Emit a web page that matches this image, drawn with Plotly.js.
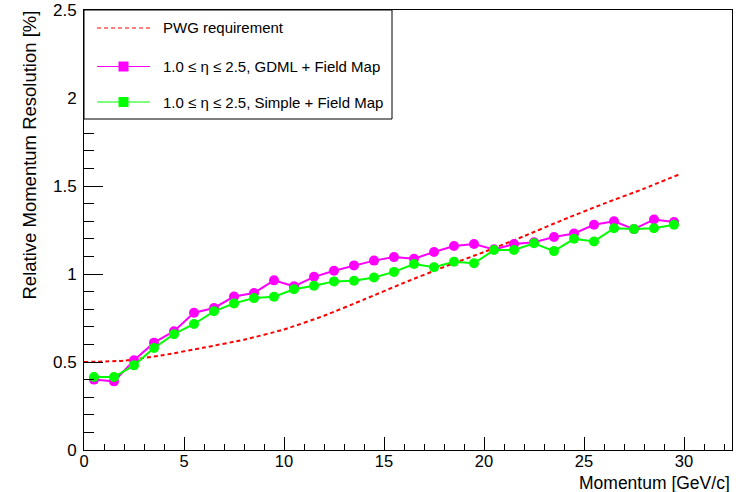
<!DOCTYPE html>
<html>
<head>
<meta charset="utf-8">
<script src="https://cdn.plot.ly/plotly-3.0.1.min.js"></script>
<style>
  html, body { margin: 0; padding: 0; background: #ffffff; }
  #chart { width: 744px; height: 492px; }
</style>
</head>
<body>
<div id="chart"></div>
<script>
// ---- data ----
const momentum = [0.5, 1.5, 2.5, 3.5, 4.5, 5.5, 6.5, 7.5, 8.5, 9.5,
                  10.5, 11.5, 12.5, 13.5, 14.5, 15.5, 16.5, 17.5, 18.5, 19.5,
                  20.5, 21.5, 22.5, 23.5, 24.5, 25.5, 26.5, 27.5, 28.5, 29.5];
const gdmlRes = [0.40, 0.39, 0.51, 0.61, 0.675, 0.78, 0.807, 0.872, 0.892, 0.964,
                 0.93, 0.984, 1.018, 1.049, 1.076, 1.096, 1.087, 1.125, 1.159, 1.17,
                 1.14, 1.17, 1.18, 1.21, 1.23, 1.28, 1.30, 1.255, 1.31, 1.295];
const simpleRes = [0.415, 0.415, 0.481, 0.58, 0.658, 0.716, 0.788, 0.833, 0.863, 0.871,
                   0.913, 0.933, 0.958, 0.962, 0.98, 1.012, 1.057, 1.038, 1.07, 1.061,
                   1.136, 1.136, 1.175, 1.13, 1.20, 1.185, 1.26, 1.255, 1.26, 1.28];
const pwgMomentum = [0, 2, 4, 6, 8, 10, 12, 14, 16, 18, 20, 22, 24, 26, 28, 29.8];
const pwgRes = [0.50, 0.508, 0.54, 0.582, 0.627, 0.685, 0.763, 0.855, 0.95, 1.04,
                1.125, 1.215, 1.31, 1.40, 1.485, 1.568];
const legendLabels = ["PWG requirement",
                      "1.0 ≤ η ≤ 2.5, GDML + Field Map",
                      "1.0 ≤ η ≤ 2.5, Simple + Field Map"];
const xTitle = "Momentum [GeV/c]";
const yTitle = "Relative Momentum Resolution [%]";

// ---- styles ----
const FONT = "Liberation Sans, Arial, Helvetica, sans-serif";
const RED = "#ff0000", MAGENTA = "#ff00ff", GREEN = "#00ff00";
const W = 744, H = 492;
const M = {l: 84, r: 12, t: 10, b: 42};
const PW = W - M.l - M.r, PH = H - M.t - M.b;
const px = x => (x - M.l) / PW;          // page pixel -> paper x
const py = y => (H - M.b - y) / PH;      // page pixel -> paper y

const traces = [
  {x: pwgMomentum, y: pwgRes, type: "scatter", mode: "lines",
   line: {color: RED, width: 2, dash: "4px,3px", shape: "spline", smoothing: 0.6},
   hoverinfo: "skip", showlegend: false},
  {x: momentum, y: gdmlRes, type: "scatter", mode: "lines+markers",
   line: {color: MAGENTA, width: 2}, marker: {color: MAGENTA, size: 10, symbol: "circle"},
   showlegend: false},
  {x: momentum, y: simpleRes, type: "scatter", mode: "lines+markers",
   line: {color: GREEN, width: 2}, marker: {color: GREEN, size: 10, symbol: "circle"},
   showlegend: false}
];

// legend box (drawn as shapes + annotations)
const legRows = [28, 66.5, 102];
const shapes = [
  {type: "rect", xref: "paper", yref: "paper", x0: px(84), x1: px(392), y0: py(119), y1: py(10),
   line: {color: "#000", width: 1}, fillcolor: "#fff", layer: "above"},
  {type: "line", xref: "paper", yref: "paper", x0: px(97), x1: px(150), y0: py(legRows[0]), y1: py(legRows[0]),
   line: {color: RED, width: 1, dash: "4px,3px"}, layer: "above"},
  {type: "line", xref: "paper", yref: "paper", x0: px(97), x1: px(150), y0: py(legRows[1]), y1: py(legRows[1]),
   line: {color: MAGENTA, width: 1.2}, layer: "above"},
  {type: "rect", xref: "paper", yref: "paper", x0: px(118.5), x1: px(128.5), y0: py(legRows[1] + 5), y1: py(legRows[1] - 5),
   line: {width: 0}, fillcolor: MAGENTA, layer: "above"},
  {type: "line", xref: "paper", yref: "paper", x0: px(97), x1: px(150), y0: py(legRows[2]), y1: py(legRows[2]),
   line: {color: GREEN, width: 1.2}, layer: "above"},
  {type: "rect", xref: "paper", yref: "paper", x0: px(118.5), x1: px(128.5), y0: py(legRows[2] + 5), y1: py(legRows[2] - 5),
   line: {width: 0}, fillcolor: GREEN, layer: "above"}
];

const annotations = legendLabels.map((t, i) => ({
  text: t, xref: "paper", yref: "paper", x: px(161), y: py(legRows[i]),
  xanchor: "left", yanchor: "middle", showarrow: false,
  font: {family: FONT, size: 15, color: "#000"}
}));
annotations.push({
  text: xTitle, xref: "paper", yref: "paper", x: px(732), y: py(483),
  xanchor: "right", yanchor: "middle", showarrow: false,
  font: {family: FONT, size: 17.5, color: "#000"}
});
annotations.push({
  text: yTitle, xref: "paper", yref: "paper", x: px(29), y: py(9),
  xanchor: "center", yanchor: "top", textangle: -90, showarrow: false,
  font: {family: FONT, size: 18.5, color: "#000"}
});

const layout = {
  width: W, height: H, margin: M,
  paper_bgcolor: "#fff", plot_bgcolor: "#fff",
  font: {family: FONT, size: 17, color: "#000"},
  showlegend: false,
  xaxis: {range: [0, 32.4], dtick: 5, tick0: 0, ticks: "inside", ticklen: 13, tickwidth: 1,
          tickcolor: "#000", showline: true, linecolor: "#000", linewidth: 1, mirror: true,
          showgrid: false, zeroline: false, ticklabelstandoff: -4,
          tickfont: {family: FONT, size: 16.5, color: "#000"},
          minor: {dtick: 1, ticks: "inside", ticklen: 6.5, tickwidth: 1, tickcolor: "#000", showgrid: false}},
  yaxis: {range: [0, 2.5], dtick: 0.5, tick0: 0, ticks: "inside", ticklen: 19, tickwidth: 1,
          tickcolor: "#000", showline: true, linecolor: "#000", linewidth: 1, mirror: true,
          showgrid: false, zeroline: false, ticklabelstandoff: 3,
          tickfont: {family: FONT, size: 17, color: "#000"},
          minor: {dtick: 0.1, ticks: "inside", ticklen: 10, tickwidth: 1, tickcolor: "#000", showgrid: false}},
  shapes: shapes,
  annotations: annotations
};

Plotly.newPlot("chart", traces, layout, {displayModeBar: false, staticPlot: true});
</script>
</body>
</html>
